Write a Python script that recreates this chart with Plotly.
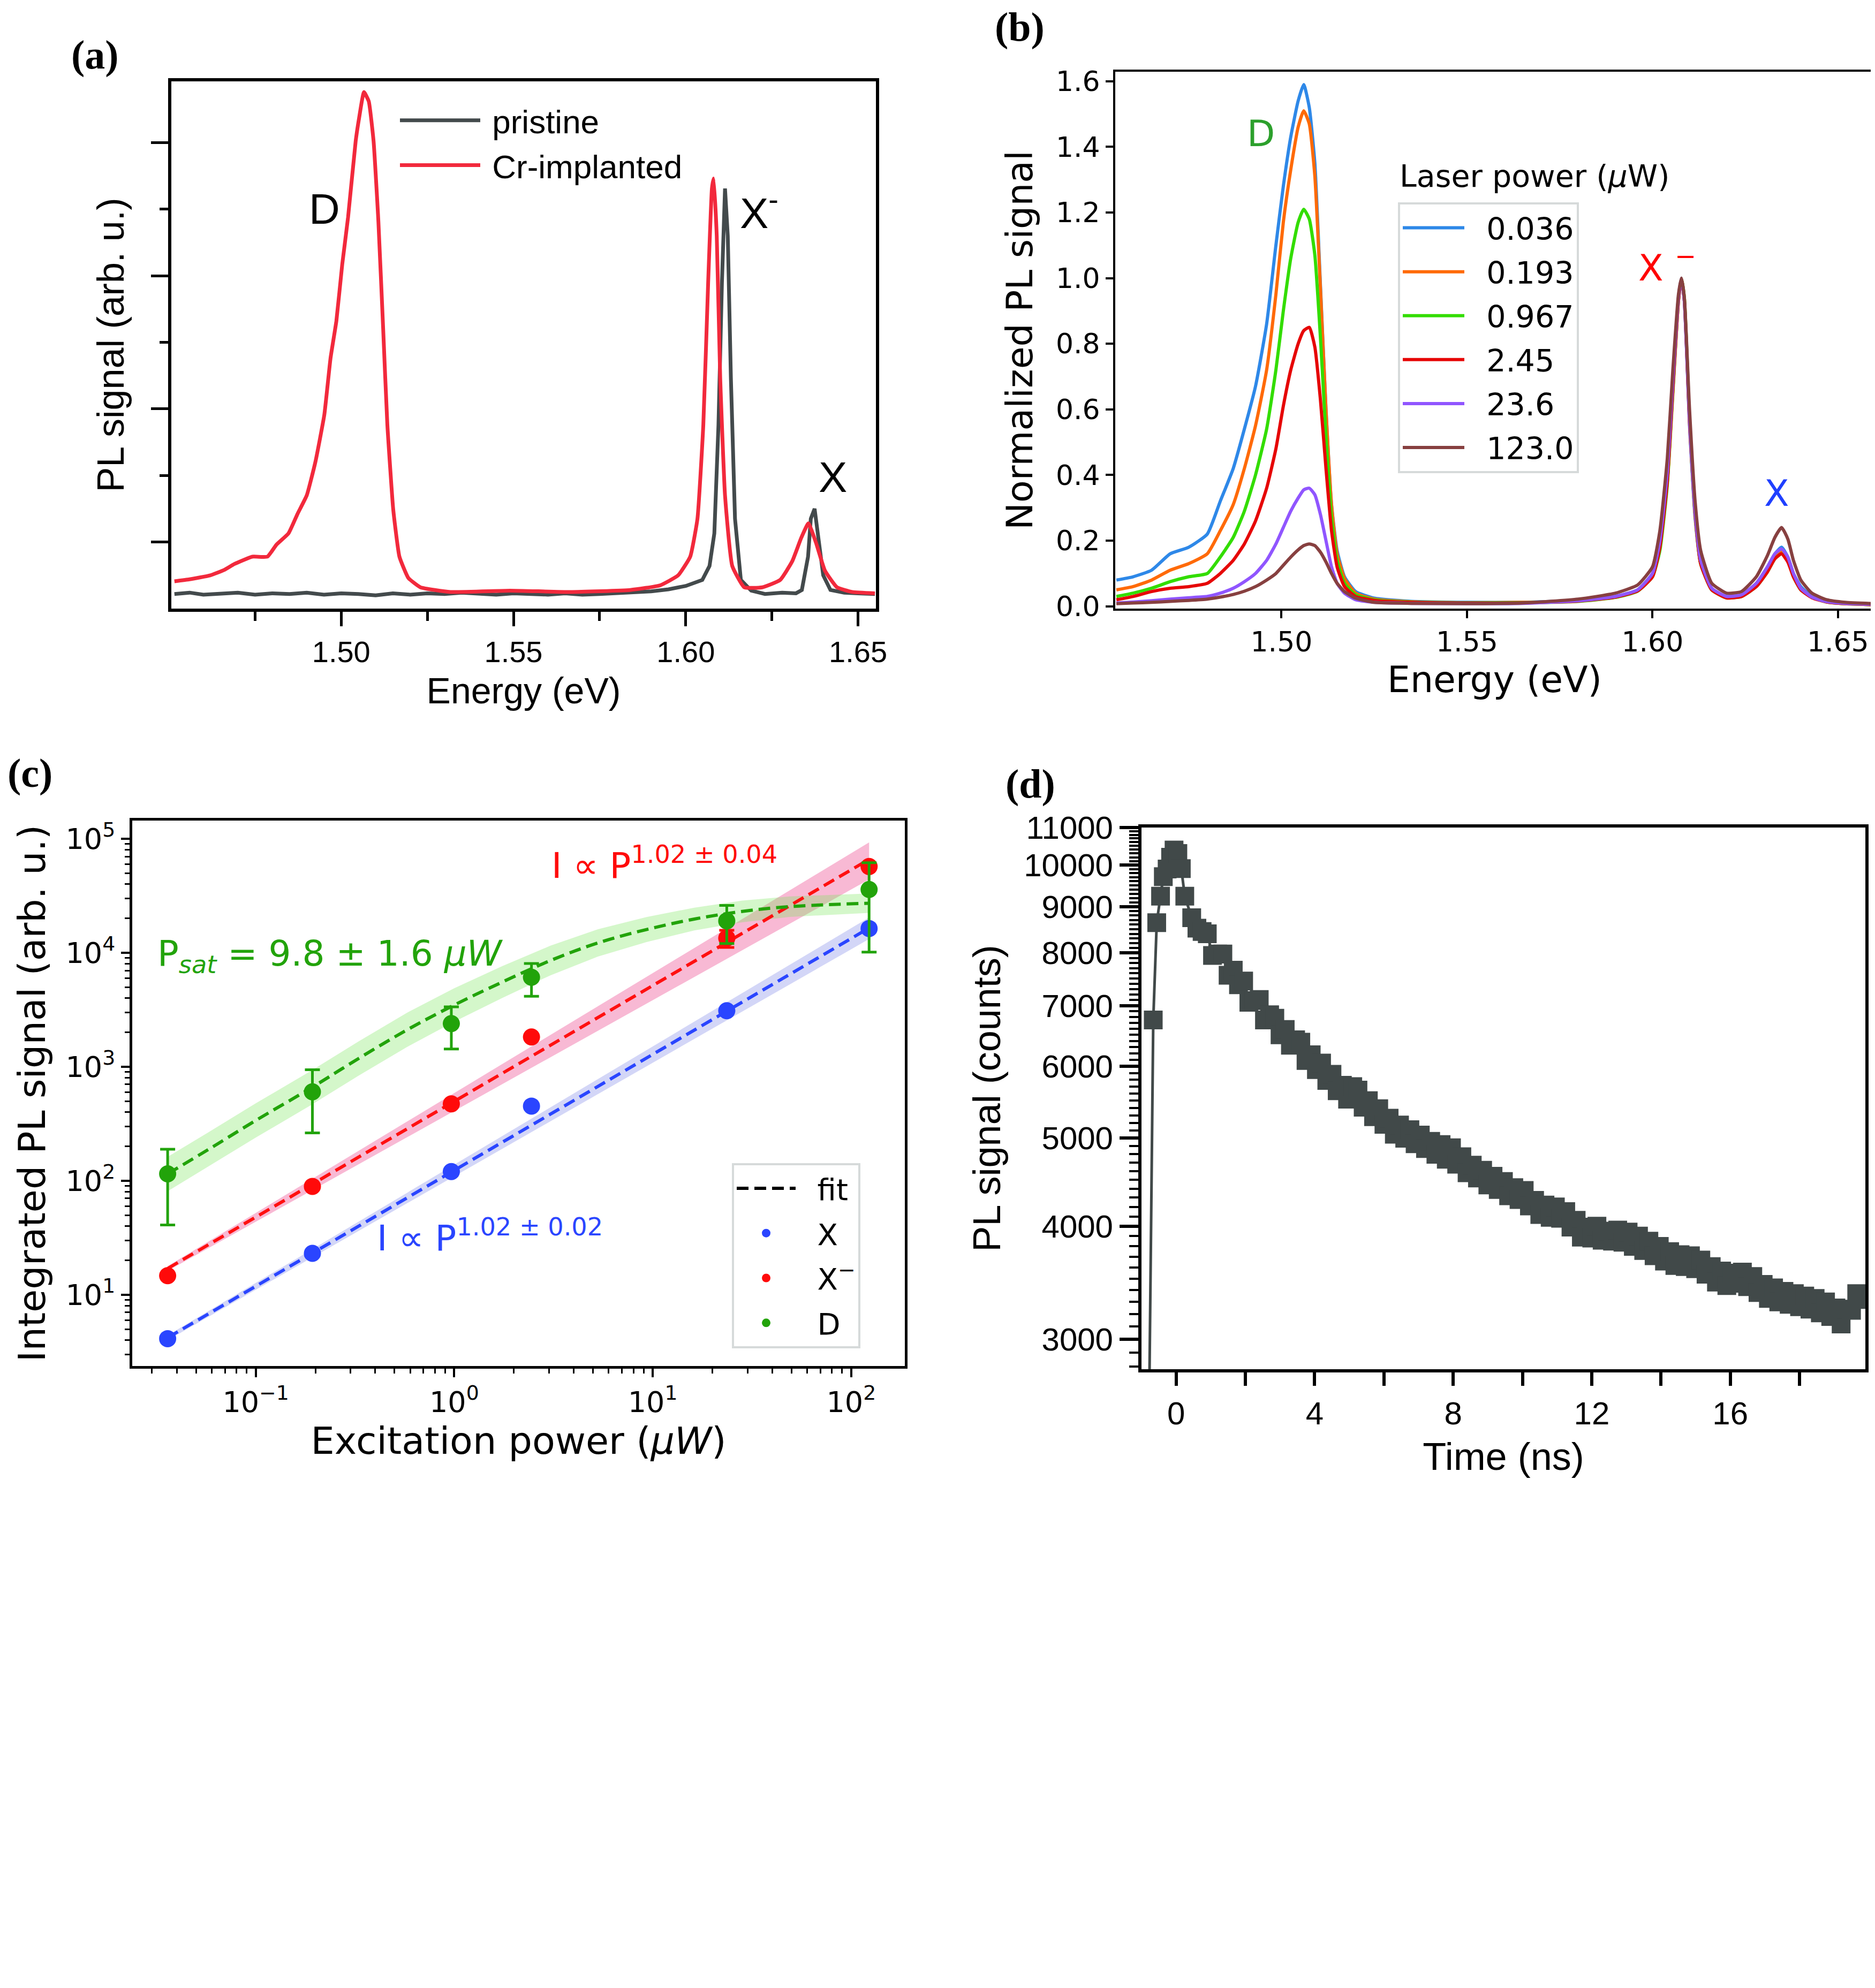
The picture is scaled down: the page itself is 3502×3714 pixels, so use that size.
import math
import plotly.graph_objects as go

# ---------------- Panel (a): PL spectra, pristine vs Cr-implanted ----------------
a_cr_energy = [1.4516, 1.456, 1.462, 1.466, 1.469, 1.4742, 1.4786, 1.4812, 1.4847, 1.4873, 1.490, 1.4925,
               1.4951, 1.4969, 1.4986, 1.5003, 1.502, 1.5042, 1.5052, 1.5066, 1.508, 1.5094, 1.5108, 1.5122,
               1.5134, 1.5151, 1.5169, 1.5195, 1.523, 1.5317, 1.549, 1.5665, 1.5839, 1.5926, 1.5978, 1.6013,
               1.6034, 1.6051, 1.6065, 1.6076, 1.6081, 1.609, 1.610, 1.6114, 1.6135, 1.617, 1.6222, 1.6274,
               1.6309, 1.6335, 1.6356, 1.6378, 1.6404, 1.6439, 1.6483, 1.6549]
a_cr_signal = [0.41, 0.44, 0.50, 0.58, 0.67, 0.78, 0.78, 0.96, 1.13, 1.42, 1.70, 2.20,
               2.91, 3.76, 4.32, 5.17, 5.88, 7.02, 7.37, 7.76, 7.62, 7.02, 5.81, 4.18,
               2.76, 1.49, 0.78, 0.46, 0.32, 0.25, 0.27, 0.25, 0.28, 0.35, 0.50, 0.78,
               1.35, 2.76, 4.89, 6.31, 6.46, 5.60, 3.47, 1.70, 0.64, 0.32, 0.32, 0.43,
               0.71, 1.06, 1.28, 0.99, 0.57, 0.32, 0.25, 0.23]
a_pr_energy = [1.4516, 1.456, 1.460, 1.465, 1.470, 1.475, 1.480, 1.485, 1.490, 1.495, 1.500, 1.505,
               1.510, 1.515, 1.520, 1.525, 1.530, 1.535, 1.540, 1.545, 1.550, 1.555, 1.560, 1.565,
               1.570, 1.575, 1.580, 1.585, 1.590, 1.595, 1.600, 1.6048, 1.6069, 1.6083, 1.6095, 1.6105,
               1.6114, 1.6122, 1.6131, 1.6143, 1.616, 1.619, 1.623, 1.628, 1.632, 1.6337, 1.6355, 1.6363,
               1.6374, 1.6385, 1.6399, 1.642, 1.646, 1.650, 1.6549]
a_pr_signal = [0.22, 0.24, 0.21, 0.23, 0.24, 0.21, 0.23, 0.22, 0.24, 0.21, 0.23, 0.22,
               0.20, 0.23, 0.21, 0.23, 0.22, 0.24, 0.22, 0.21, 0.23, 0.22, 0.21, 0.23,
               0.21, 0.22, 0.23, 0.24, 0.26, 0.29, 0.34, 0.43, 0.64, 1.13, 2.76, 4.89,
               6.31, 5.60, 3.47, 1.35, 0.43, 0.27, 0.22, 0.24, 0.23, 0.28, 0.78, 1.35,
               1.50, 1.06, 0.50, 0.28, 0.24, 0.23, 0.22]

# ---------------- Panel (b): normalized PL vs laser power ----------------
b_energy = [1.4555, 1.460, 1.465, 1.470, 1.475, 1.480, 1.4835, 1.487, 1.490, 1.493,
            1.496, 1.4985, 1.5005, 1.5025, 1.5045, 1.506, 1.5075, 1.509, 1.5105, 1.512,
            1.5135, 1.515, 1.517, 1.520, 1.525, 1.535, 1.550, 1.565,
            1.580, 1.590, 1.596, 1.600, 1.602, 1.604, 1.6055, 1.607, 1.6078, 1.6086,
            1.610, 1.6115, 1.613, 1.616, 1.620, 1.624, 1.628, 1.631, 1.633, 1.6348,
            1.6365, 1.638, 1.640, 1.643, 1.647, 1.652, 1.6597]
b_power_labels = ["0.036", "0.193", "0.967", "2.45", "23.6", "123.0"]
b_sig_0036 = [0.08, 0.09, 0.11, 0.16, 0.18, 0.22, 0.32, 0.42, 0.54, 0.67,
              0.86, 1.10, 1.28, 1.43, 1.54, 1.59, 1.52, 1.35, 0.98, 0.60,
              0.31, 0.17, 0.09, 0.045, 0.025, 0.015, 0.012, 0.012,
              0.018, 0.03, 0.05, 0.10, 0.19, 0.40, 0.68, 0.94, 1.00, 0.93,
              0.55, 0.27, 0.13, 0.05, 0.03, 0.035, 0.07, 0.12, 0.16, 0.18,
              0.15, 0.10, 0.06, 0.03, 0.015, 0.01, 0.006]
b_sig_0193 = [0.05, 0.06, 0.08, 0.11, 0.13, 0.16, 0.23, 0.31, 0.42, 0.55,
              0.72, 0.95, 1.17, 1.33, 1.46, 1.51, 1.47, 1.31, 0.97, 0.60,
              0.31, 0.16, 0.085, 0.04, 0.022, 0.014, 0.011, 0.012,
              0.016, 0.028, 0.048, 0.09, 0.18, 0.38, 0.66, 0.93, 1.00, 0.94,
              0.56, 0.28, 0.13, 0.05, 0.025, 0.032, 0.065, 0.11, 0.15, 0.17,
              0.145, 0.095, 0.055, 0.028, 0.014, 0.009, 0.005]
b_sig_0967 = [0.03, 0.04, 0.055, 0.075, 0.09, 0.10, 0.15, 0.21, 0.29, 0.40,
              0.54, 0.72, 0.90, 1.06, 1.17, 1.21, 1.18, 1.07, 0.82, 0.52,
              0.27, 0.14, 0.07, 0.035, 0.02, 0.013, 0.011, 0.011,
              0.015, 0.027, 0.046, 0.09, 0.17, 0.37, 0.65, 0.93, 1.00, 0.94,
              0.57, 0.28, 0.13, 0.05, 0.026, 0.03, 0.06, 0.105, 0.145, 0.16,
              0.14, 0.09, 0.05, 0.027, 0.013, 0.008, 0.005]
b_sig_245 = [0.02, 0.03, 0.045, 0.055, 0.06, 0.07, 0.10, 0.14, 0.19, 0.26,
             0.36, 0.48, 0.61, 0.72, 0.80, 0.84, 0.85, 0.79, 0.63, 0.42,
             0.23, 0.12, 0.06, 0.03, 0.018, 0.012, 0.01, 0.01,
             0.016, 0.028, 0.047, 0.09, 0.18, 0.38, 0.66, 0.93, 1.00, 0.93,
             0.56, 0.28, 0.13, 0.05, 0.026, 0.03, 0.06, 0.105, 0.145, 0.16,
             0.135, 0.09, 0.05, 0.026, 0.013, 0.008, 0.005]
b_sig_236 = [0.01, 0.013, 0.017, 0.022, 0.026, 0.03, 0.04, 0.055, 0.075, 0.10,
             0.14, 0.19, 0.24, 0.29, 0.33, 0.355, 0.36, 0.34, 0.28, 0.20,
             0.12, 0.07, 0.04, 0.02, 0.012, 0.009, 0.008, 0.009,
             0.017, 0.03, 0.05, 0.10, 0.20, 0.41, 0.69, 0.94, 1.00, 0.93,
             0.57, 0.29, 0.14, 0.055, 0.03, 0.035, 0.07, 0.12, 0.16, 0.175,
             0.15, 0.10, 0.055, 0.028, 0.014, 0.009, 0.006]
b_sig_1230 = [0.008, 0.01, 0.012, 0.015, 0.018, 0.022, 0.028, 0.036, 0.046, 0.06,
              0.08, 0.10, 0.125, 0.15, 0.172, 0.185, 0.19, 0.185, 0.165, 0.135,
              0.10, 0.07, 0.045, 0.025, 0.012, 0.009, 0.008, 0.01,
              0.022, 0.04, 0.065, 0.12, 0.23, 0.45, 0.72, 0.95, 1.00, 0.94,
              0.60, 0.32, 0.17, 0.07, 0.04, 0.045, 0.09, 0.155, 0.21, 0.24,
              0.205, 0.14, 0.08, 0.04, 0.02, 0.012, 0.008]
b_colors = ["#2e88e8", "#ff6a08", "#33dd00", "#e60606", "#9055ff", "#874040"]

# ---------------- Panel (c): integrated PL vs excitation power ----------------
c_power = [0.036, 0.193, 0.967, 2.45, 23.6, 123.0]
c_X = [4.12, 23.1, 120.5, 452, 3105, 16330]
c_X_err = [0.1, 0.5, 2.5, 9, 60, 350]
c_Xm = [14.7, 89.3, 473, 1828, 13450, 57150]
c_Xm_err = [0.4, 2, 10, 40, 2300, 3000]
c_D = [115, 603, 2393, 6100, 19050, 35950]
c_D_err = [74, 340, 960, 1950, 7000, 25800]

c_fitX_power = [0.036, 123.0]
c_fitX = [4.2, 16500]
c_fitX_lo = [4.0, 13200]
c_fitX_hi = [4.4, 20400]
c_fitXm_power = [0.036, 123.0]
c_fitXm = [17.0, 66000]
c_fitXm_lo = [16.2, 44000]
c_fitXm_hi = [17.8, 93000]
c_fitD_power = [0.036, 0.058, 0.10, 0.19, 0.33, 0.58, 1.0, 1.75, 3.05, 5.3, 9.3, 16.2, 28.2, 49, 123]
c_fitD = [115, 189, 338, 652, 1183, 2113, 3483, 5546, 8551, 12220, 16000, 19770, 23070, 25410, 27230]
c_fitD_lo = [81, 134, 239, 461, 837, 1495, 2483, 4019, 6339, 9272, 12422, 15703, 18530, 20660, 22390]
c_fitD_hi = [162, 267, 478, 921, 1672, 2986, 4887, 7653, 11535, 16106, 20608, 24890, 28720, 31250, 33110]

# ---------------- Panel (d): time-resolved PL ----------------
d_time = [-0.78, -0.66, -0.56, -0.45, -0.37, -0.26, -0.16, -0.06, 0.05, 0.15, 0.25,
          0.45, 0.60, 0.75, 0.90, 1.05, 1.20, 1.35, 1.50, 1.65, 1.80, 1.95, 2.10, 2.25, 2.40,
          2.55, 2.70, 2.85, 3.00, 3.15, 3.30, 3.45, 3.60, 3.75, 3.90, 4.05, 4.20, 4.35, 4.50,
          4.65, 4.80, 4.95, 5.10, 5.25, 5.40, 5.55, 5.70, 5.85, 6.00, 6.15, 6.30, 6.45, 6.60,
          6.75, 6.90, 7.05, 7.20, 7.35, 7.50, 7.65, 7.80, 7.95, 8.10, 8.25, 8.40, 8.55, 8.70,
          8.85, 9.00, 9.15, 9.30, 9.45, 9.60, 9.75, 9.90, 10.05, 10.20, 10.35, 10.50, 10.65, 10.80,
          10.95, 11.10, 11.25, 11.40, 11.55, 11.70, 11.85, 12.00, 12.15, 12.30, 12.45, 12.60, 12.75, 12.90,
          13.05, 13.20, 13.35, 13.50, 13.65, 13.80, 13.95, 14.10, 14.25, 14.40, 14.55, 14.70, 14.85, 15.00,
          15.15, 15.30, 15.45, 15.60, 15.75, 15.90, 16.05, 16.20, 16.35, 16.50, 16.65, 16.80, 16.95, 17.10,
          17.25, 17.40, 17.55, 17.70, 17.85, 18.00, 18.15, 18.30, 18.45, 18.60, 18.75, 18.90, 19.05, 19.20,
          19.35, 19.50, 19.65, 19.80]
d_counts = [2500, 6750, 8640, 9240, 9710, 9900, 10200, 10390, 10300, 9910, 9240,
            8750, 8520, 8450, 8400, 7950, 7980, 7980, 7560, 7660, 7380, 7450, 7060, 7090, 7110,
            6750, 6840, 6780, 6500, 6590, 6330, 6420, 6380, 6090, 6180, 5950, 6050, 5790, 5880,
            5640, 5720, 5520, 5700, 5650, 5410, 5500, 5280, 5390, 5180, 5260, 5050, 5170, 5000,
            5110, 4930, 5040, 4870, 4960, 4800, 4920, 4740, 4880, 4680, 4770, 4580, 4670, 4520,
            4610, 4440, 4540, 4390, 4480, 4320, 4410, 4280, 4380, 4210, 4270, 4120, 4220, 4090,
            4200, 4080, 4150, 3990, 4060, 3890, 3990, 3880, 4000, 3860, 3950, 3850, 3960, 3840,
            3940, 3800, 3900, 3760, 3850, 3710, 3800, 3660, 3750, 3620, 3720, 3610, 3710, 3590,
            3670, 3540, 3610, 3470, 3570, 3440, 3550, 3460, 3560, 3430, 3520, 3380, 3450, 3330,
            3420, 3300, 3390, 3280, 3370, 3260, 3350, 3240, 3330, 3210, 3300, 3180, 3250, 3120,
            3240, 3230, 3370, 3320]

FA = "Liberation Sans, Arial, sans-serif"
FB = "DejaVu Sans, Verdana, sans-serif"
FS = "Liberation Serif, Times New Roman, serif"
NB = "\u00a0"

fig = go.Figure()

# ---- (a)
fig.add_trace(go.Scatter(x=a_pr_energy, y=a_pr_signal, mode="lines", name=NB + "pristine",
                         line=dict(color="#434a4c", width=7), xaxis="x", yaxis="y", legend="legend"))
fig.add_trace(go.Scatter(x=a_cr_energy, y=a_cr_signal, mode="lines", name=NB + "Cr-implanted",
                         line=dict(color="#f2293c", width=7, shape="spline", smoothing=0.4),
                         xaxis="x", yaxis="y", legend="legend"))

# ---- (b)
for i, (lab, sig) in enumerate(zip(b_power_labels,
                                   [b_sig_0036, b_sig_0193, b_sig_0967, b_sig_245, b_sig_236, b_sig_1230])):
    fig.add_trace(go.Scatter(x=b_energy, y=sig, mode="lines", name=NB * 2 + lab,
                             line=dict(color=b_colors[i], width=6, shape="spline", smoothing=0.5),
                             xaxis="x2", yaxis="y2", legend="legend2", legendgroup="b%d" % i))

# ---- (c) bands
def band(px, lo, hi, color):
    fig.add_trace(go.Scatter(x=px, y=lo, mode="lines", line=dict(width=0, color=color),
                             showlegend=False, xaxis="x3", yaxis="y3", hoverinfo="skip"))
    fig.add_trace(go.Scatter(x=px, y=hi, mode="lines", line=dict(width=0, color=color),
                             fill="tonexty", fillcolor=color, showlegend=False,
                             xaxis="x3", yaxis="y3", hoverinfo="skip"))

band(c_fitX_power, c_fitX_lo, c_fitX_hi, "rgba(120,130,230,0.33)")
band(c_fitXm_power, c_fitXm_lo, c_fitXm_hi, "rgba(240,100,160,0.45)")
band(c_fitD_power, c_fitD_lo, c_fitD_hi, "rgba(120,230,90,0.32)")

DASH = "22px,11px"
fig.add_trace(go.Scatter(x=[None], y=[None], mode="lines", name=NB * 2 + "fit",
                         line=dict(color="black", width=6, dash=DASH),
                         xaxis="x3", yaxis="y3", legend="legend3", legendgroup="c0"))
fig.add_trace(go.Scatter(x=c_fitX_power, y=c_fitX, mode="lines", showlegend=False,
                         line=dict(color="#2a45ff", width=6, dash=DASH), xaxis="x3", yaxis="y3"))
fig.add_trace(go.Scatter(x=c_fitXm_power, y=c_fitXm, mode="lines", showlegend=False,
                         line=dict(color="#ff1010", width=6, dash=DASH), xaxis="x3", yaxis="y3"))
fig.add_trace(go.Scatter(x=c_fitD_power, y=c_fitD, mode="lines", showlegend=False,
                         line=dict(color="#22a30a", width=6, dash=DASH, shape="spline"),
                         xaxis="x3", yaxis="y3"))

for k, (name, vals, err, col) in enumerate([("X", c_X, c_X_err, "#2a45ff"),
                                            ("X<sup>−</sup>", c_Xm, c_Xm_err, "#ff0a0a"),
                                            ("D", c_D, c_D_err, "#22a30a")]):
    fig.add_trace(go.Scatter(x=c_power, y=vals, mode="markers", name=NB * 2 + name,
                             marker=dict(color=col, size=32),
                             error_y=dict(type="data", array=err, visible=True, color=col,
                                          thickness=5, width=14),
                             xaxis="x3", yaxis="y3", legend="legend3", legendgroup="c%d" % (k + 1)))

# ---- (d)
fig.add_trace(go.Scatter(x=d_time, y=d_counts, mode="lines+markers", showlegend=False,
                         line=dict(color="#414949", width=5),
                         marker=dict(symbol="square", size=35, color="#414949"),
                         xaxis="x4", yaxis="y4"))

# ---------------- Layout ----------------
W, H = 3502, 3714
OFF = 8  # page body margin offset


def px_x(v):
    return (v - OFF) / W


def px_y(v):
    return 1 - (v - OFF) / H


def tick_common(lw):
    return dict(showline=True, mirror=True, linecolor="black", linewidth=lw, showgrid=False,
                zeroline=False, ticks="outside", tickcolor="black", automargin=False)


c_minor = [m * 10 ** e for e in range(-2, 3) for m in range(2, 10)]
c_minor_y = [m * 10 ** e for e in range(0, 6) for m in range(2, 10)]
d_major = [3000, 4000, 5000, 6000, 7000, 8000, 9000, 10000, 11000]
d_minor = [v for v in range(2800, 11001, 100) if v not in d_major]

layout = dict(
    width=W, height=H, margin=dict(l=0, r=0, t=0, b=0, autoexpand=False),
    paper_bgcolor="white", plot_bgcolor="white",
    showlegend=True,
    # (a)
    xaxis=dict(domain=[px_x(320), px_x(1636)], anchor="y", range=[1.4507, 1.6552],
               tick0=1.5, dtick=0.05, tickformat=".2f", ticklen=27, tickwidth=5,
               minor=dict(tick0=1.475, dtick=0.025, ticklen=17, tickwidth=5, ticks="outside",
                          tickcolor="black"),
               tickfont=dict(family=FA, size=56, color="black"),
               title=dict(text="Energy (eV)", font=dict(family=FA, size=68, color="black"), standoff=20),
               **tick_common(6)),
    yaxis=dict(domain=[px_y(1137), px_y(152)], anchor="x", range=[0, 7.92],
               tickmode="array", tickvals=[1, 3, 5, 7], showticklabels=False,
               ticklen=32, tickwidth=5,
               minor=dict(tickmode="array", tickvals=[2, 4, 6], ticklen=16, tickwidth=5,
                          ticks="outside", tickcolor="black"),
               title=dict(text="PL signal (arb. u.)", font=dict(family=FA, size=70, color="black"),
                          standoff=30),
               **tick_common(6)),
    # (b)
    xaxis2=dict(domain=[px_x(2083), px_x(3500)], anchor="y2", range=[1.4552, 1.6597],
                tick0=1.5, dtick=0.05, tickformat=".2f", ticklen=14, tickwidth=4,
                tickfont=dict(family=FB, size=52, color="black"),
                title=dict(text="Energy (eV)", font=dict(family=FB, size=68, color="black"), standoff=18),
                **tick_common(4)),
    yaxis2=dict(domain=[px_y(1137), px_y(134)], anchor="x2", range=[-0.007, 1.629],
                tick0=0, dtick=0.2, tickformat=".1f", ticklen=14, tickwidth=4,
                tickfont=dict(family=FB, size=52, color="black"),
                title=dict(text="Normalized PL signal", font=dict(family=FB, size=68, color="black"),
                           standoff=22),
                **tick_common(4)),
    # (c)
    xaxis3=dict(domain=[px_x(247), px_x(1690)], anchor="y3", type="log", range=[-1.622, 2.27],
                tickmode="array", tickvals=[0.1, 1, 10, 100],
                ticktext=["10<sup>−1</sup>", "10<sup>0</sup>", "10<sup>1</sup>", "10<sup>2</sup>"],
                ticklen=16, tickwidth=4,
                minor=dict(tickmode="array", tickvals=c_minor, ticklen=9, tickwidth=3,
                           ticks="outside", tickcolor="black"),
                tickfont=dict(family=FB, size=54, color="black"),
                title=dict(text="Excitation power (<i>μW</i>)", font=dict(family=FB, size=70, color="black"),
                           standoff=8),
                **tick_common(5)),
    yaxis3=dict(domain=[px_y(2552), px_y(1533)], anchor="x3", type="log", range=[0.375, 5.16],
                tickmode="array", tickvals=[10, 100, 1000, 10000, 100000],
                ticktext=["10<sup>1</sup>", "10<sup>2</sup>", "10<sup>3</sup>", "10<sup>4</sup>", "10<sup>5</sup>"],
                ticklen=16, tickwidth=4,
                minor=dict(tickmode="array", tickvals=c_minor_y, ticklen=9, tickwidth=3,
                           ticks="outside", tickcolor="black"),
                tickfont=dict(family=FB, size=54, color="black"),
                title=dict(text="Integrated PL signal (arb. u.)", font=dict(family=FB, size=70, color="black"),
                           standoff=16),
                **tick_common(5)),
    # (d)
    xaxis4=dict(domain=[px_x(2132), px_x(3484)], anchor="y4", range=[-1.0, 19.9],
                tickmode="array", tickvals=[0, 4, 8, 12, 16], ticklen=25, tickwidth=6,
                minor=dict(tickmode="array", tickvals=[2, 6, 10, 14, 18], ticklen=25, tickwidth=6,
                           ticks="outside", tickcolor="black"),
                tickfont=dict(family=FA, size=60, color="black"),
                title=dict(text="Time (ns)", font=dict(family=FA, size=72, color="black"), standoff=25),
                **tick_common(6)),
    yaxis4=dict(domain=[px_y(2558), px_y(1546)], anchor="x4", type="log",
                range=[math.log10(2782), math.log10(11000)],
                tickmode="array", tickvals=d_major, ticktext=[str(v) for v in d_major],
                ticklen=35, tickwidth=6,
                minor=dict(tickmode="array", tickvals=d_minor, ticklen=17, tickwidth=4,
                           ticks="outside", tickcolor="black"),
                tickfont=dict(family=FA, size=60, color="black"),
                title=dict(text="PL signal (counts)", font=dict(family=FA, size=72, color="black"),
                           standoff=22),
                **tick_common(6)),
    legend=dict(x=px_x(742), y=px_y(178), xanchor="left", yanchor="top", bgcolor="rgba(0,0,0,0)",
                borderwidth=0, traceorder="normal", itemwidth=150,
                font=dict(family=FA, size=62, color="black")),
    legend2=dict(x=px_x(2611), y=px_y(378), xanchor="left", yanchor="top", bgcolor="white",
                 bordercolor="#d6dada", borderwidth=4, traceorder="grouped", itemwidth=115,
                 tracegroupgap=5, font=dict(family=FB, size=57, color="black")),
    legend3=dict(x=px_x(1367), y=px_y(2173), xanchor="left", yanchor="top", bgcolor="white",
                 bordercolor="#d6dada", borderwidth=4, traceorder="grouped", itemwidth=110,
                 tracegroupgap=8, font=dict(family=FB, size=56, color="black")),
)
fig.update_layout(**layout)

ann = []
# panel letters
for txt, px, py in [("(a)", 177, 102), ("(b)", 1905, 50), ("(c)", 56, 1444), ("(d)", 1924, 1464)]:
    ann.append(dict(text="<b>%s</b>" % txt, x=px_x(px), y=px_y(py), xref="paper", yref="paper",
                    xanchor="center", yanchor="middle", showarrow=False,
                    font=dict(family=FS, size=76, color="black")))
# (a) peak labels
for txt, ex, ey in [("D", 1.4951, 6.0), ("X<sup>-</sup>", 1.6213, 5.99), ("X", 1.6427, 1.97)]:
    ann.append(dict(text=txt, x=ex, y=ey, xref="x", yref="y", showarrow=False,
                    font=dict(family=FA, size=80, color="black")))
# (b) peak labels and legend title
ann.append(dict(text="D", x=1.4944, y=1.44, xref="x2", yref="y2", showarrow=False,
                font=dict(family=FB, size=68, color="#2ca02c")))
ann.append(dict(text="X <sup>−</sup>", x=1.604, y=1.04, xref="x2", yref="y2", showarrow=False,
                font=dict(family=FB, size=68, color="#ff0000")))
ann.append(dict(text="X", x=1.6335, y=0.345, xref="x2", yref="y2", showarrow=False,
                font=dict(family=FB, size=68, color="#1f3fff")))
ann.append(dict(text="Laser power (<i>μ</i>W)", x=px_x(2866), y=px_y(329), xref="paper", yref="paper",
                xanchor="center", yanchor="middle", showarrow=False,
                font=dict(family=FB, size=57, color="black")))
# (c) fit labels (log axes -> positions in log10 units)
ann.append(dict(text="I ∝ P<sup>1.02 ± 0.04</sup>", x=math.log10(3.05), y=math.log10(61000),
                xref="x3", yref="y3", xanchor="left", showarrow=False,
                font=dict(family=FB, size=66, color="#ff0a0a")))
ann.append(dict(text="P<sub><i>sat</i></sub> = 9.8 ± 1.6 <i>μW</i>", x=math.log10(0.0316),
                y=math.log10(9400), xref="x3", yref="y3", xanchor="left", showarrow=False,
                font=dict(family=FB, size=66, color="#22a30a")))
ann.append(dict(text="I ∝ P<sup>1.02 ± 0.02</sup>", x=math.log10(0.402), y=math.log10(33),
                xref="x3", yref="y3", xanchor="left", showarrow=False,
                font=dict(family=FB, size=66, color="#2a45ff")))
fig.update_layout(annotations=ann)

fig.write_html("out.html")
